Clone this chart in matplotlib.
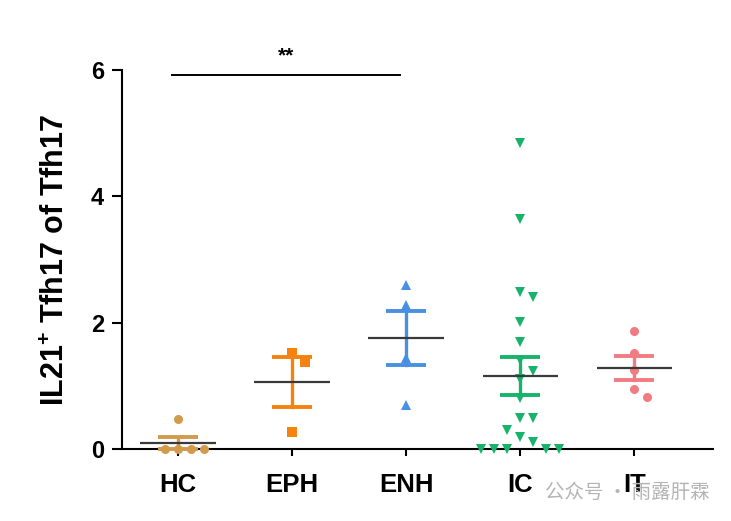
import matplotlib.pyplot as plt
import numpy as np

plt.rcParams["mathtext.fontset"] = "custom"
plt.rcParams["mathtext.rm"] = "Liberation Sans:bold"
plt.rcParams["mathtext.bf"] = "Liberation Sans:bold"

# Values (IL21+ Tfh17 of Tfh17, %)
groups = ["HC", "EPH", "ENH", "IC", "IT"]
hc = [0.0, 0.0, 0.0, 0.0, 0.47]
eph = [1.52, 1.38, 0.27]
enh = [2.59, 2.28, 1.44, 0.70]
ic = [4.84, 3.64, 2.48, 2.41, 2.01, 1.69, 1.41, 1.23, 1.11, 0.81,
      0.49, 0.49, 0.30, 0.19, 0.11, 0.0, 0.0, 0.0, 0.0, 0.0]
it = [1.87, 1.52, 1.25, 0.95, 0.82]
values = [hc, eph, enh, ic, it]

colors = ["#D29A4C", "#F5820F", "#4A90E2", "#19B26B", "#F07C82"]
markers = ["o", "s", "^", "v", "o"]
sig_pair = (0, 2)
sig_text = "**"

PX_X = 114.0   # pixels per category
PX_Y = 63.2    # pixels per y unit


def swarm(vals, min_px=13.0, step_px=13.0):
    """Simple beeswarm: place each point at the nearest free horizontal slot."""
    order = np.argsort(vals)[::-1]
    placed = []
    offs = np.zeros(len(vals))
    for i in order:
        y = vals[i] * PX_Y
        k = 0
        while True:
            cand = 0.0 if k == 0 else ((k + 1) // 2) * step_px * (1 if k % 2 else -1)
            if all((cand - px) ** 2 + (y - py) ** 2 >= min_px ** 2 for px, py in placed):
                break
            k += 1
        placed.append((cand, y))
        offs[i] = cand / PX_X
    return offs


fig = plt.figure(figsize=(7.31, 5.21), dpi=100)
ax = fig.add_axes([122 / 731, 1 - 449 / 521, (713 - 122) / 731, (449 - 70) / 521])

for i, (vals, c, m) in enumerate(zip(values, colors, markers)):
    vals = np.asarray(vals)
    xs = i + swarm(vals)
    ax.plot(xs, vals, linestyle="none", marker=m, color=c, markersize=6.5,
            markeredgewidth=0, clip_on=False, zorder=3)
    mean = vals.mean()
    sem = vals.std(ddof=1) / np.sqrt(len(vals))
    lo, hi = max(mean - sem, 0), mean + sem
    ax.plot([i, i], [lo, hi], color=c, lw=2.4, zorder=4, clip_on=False)
    for y in (lo, hi):
        ax.plot([i - 0.175, i + 0.175], [y, y], color=c, lw=2.8, zorder=4,
                solid_capstyle="butt", clip_on=False)
    ax.plot([i - 0.33, i + 0.33], [mean, mean], color="#3a3a3a", lw=1.6,
            zorder=5, solid_capstyle="butt", clip_on=False)

# significance bar
a, b = sig_pair
ax.plot([a - 0.05, b - 0.05], [5.92, 5.92], color="black", lw=1.4, clip_on=False)
ax.text((a + b) / 2 - 0.05, 6.08, sig_text, ha="center", va="bottom",
        fontsize=15, fontweight="bold", family="Liberation Sans")

ax.set_xlim(-0.49, 4.69)
ax.set_ylim(0, 6)
ax.set_yticks([0, 2, 4, 6])
ax.set_xticks(range(len(groups)))
ax.set_xticklabels(groups)
for s in ("top", "right"):
    ax.spines[s].set_visible(False)
for s in ("left", "bottom"):
    ax.spines[s].set_linewidth(1.5)
ax.tick_params(axis="y", length=7, width=1.5, pad=6)
ax.tick_params(axis="x", length=5, width=1.5, pad=12)
for lab in ax.get_yticklabels():
    lab.set_fontsize(17)
    lab.set_fontweight("bold")
    lab.set_family("Liberation Sans")
for lab in ax.get_xticklabels():
    lab.set_fontsize(18.5)
    lab.set_fontweight("bold")
    lab.set_family("Liberation Sans")
ax.set_ylabel("IL21$^{+}$ Tfh17 of Tfh17", fontsize=22, fontweight="bold",
              family="Liberation Sans", labelpad=14)

# watermark
fig.text(545 / 731, 1 - 492 / 521, "公众号 · 雨露肝霖", fontsize=14,
         color="#b4b4b4", va="center", ha="left",
         family=["Noto Sans CJK SC", "DejaVu Sans"])

fig.savefig("out.png", dpi=100)
